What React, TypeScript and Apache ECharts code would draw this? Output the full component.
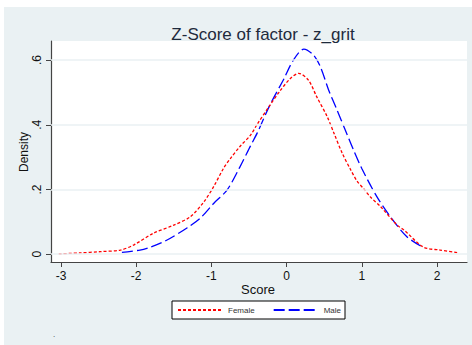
import React, { useEffect, useRef } from "react";
import * as echarts from "echarts";

// Kernel density estimates of the z_grit factor score, by sex
const femaleScore = [-3.03, -2.75, -2.48, -2.21, -2.03, -1.77, -1.5, -1.28, -1.1, -0.97, -0.84, -0.75, -0.62, -0.48, -0.39, -0.22, -0.08, 0.05, 0.16, 0.29, 0.4, 0.54, 0.63, 0.74, 0.85, 0.94, 1.02, 1.11, 1.25, 1.47, 1.56, 1.82, 2.04, 2.27];
const femaleDensity = [0.001, 0.004, 0.008, 0.013, 0.029, 0.065, 0.09, 0.116, 0.162, 0.209, 0.265, 0.295, 0.333, 0.368, 0.402, 0.461, 0.507, 0.543, 0.559, 0.538, 0.487, 0.425, 0.374, 0.312, 0.262, 0.225, 0.204, 0.178, 0.147, 0.09, 0.075, 0.022, 0.013, 0.005];

const maleScore = [-2.19, -1.95, -1.81, -1.59, -1.32, -1.15, -0.97, -0.79, -0.62, -0.48, -0.39, -0.22, -0.04, 0.09, 0.23, 0.36, 0.45, 0.56, 0.67, 0.78, 0.89, 1.0, 1.2, 1.38, 1.6, 1.8];
const maleDensity = [0.006, 0.013, 0.022, 0.044, 0.082, 0.111, 0.157, 0.199, 0.27, 0.335, 0.375, 0.462, 0.54, 0.6, 0.634, 0.615, 0.579, 0.507, 0.446, 0.384, 0.322, 0.265, 0.178, 0.116, 0.054, 0.023];

const xTicks = [-3, -2, -1, 0, 1, 2];
const yTicks = [0, 0.2, 0.4, 0.6];

const BG = "#eaf1f3";
const FONT = "'Liberation Sans', Arial, sans-serif";

const pairs = (xs: number[], ys: number[]) => xs.map((x, i) => [x, ys[i]]);

export default function App() {
  const ref = useRef<HTMLDivElement>(null);

  useEffect(() => {
    if (!ref.current) return;
    const chart = echarts.init(ref.current, undefined, { renderer: "svg" });
    chart.setOption({
      animation: false,
      backgroundColor: "#ffffff",
      textStyle: { fontFamily: FONT },
      title: {
        text: "Z-Score of factor - z_grit",
        left: 258,
        textAlign: "center",
        top: 21,
        textStyle: { fontSize: 17, fontWeight: "normal", color: "#1e2a3c", fontFamily: FONT },
      },
      graphic: [
        { type: "rect", z: -10, shape: { x: 4, y: 7, width: 468, height: 338 }, style: { fill: BG } },
        {
          type: "text",
          x: 258,
          y: 289,
          style: { text: "Score", fontSize: 13, fill: "#111", align: "center", verticalAlign: "middle", fontFamily: FONT },
        },
        {
          type: "text",
          x: 24,
          y: 152,
          rotation: Math.PI / 2,
          style: { text: "Density", fontSize: 12, fill: "#111", align: "center", verticalAlign: "middle", fontFamily: FONT },
        },
        {
          type: "text",
          x: 54,
          y: 334,
          style: { text: ".", fontSize: 8, fill: "#333", align: "center", verticalAlign: "middle", fontFamily: FONT },
        },
      ],
      legend: {
        data: ["Female", "Male"],
        left: 172,
        top: 301,
        itemWidth: 45,
        itemHeight: 10,
        itemGap: 18,
        padding: [5, 4, 5, 5],
        backgroundColor: "#ffffff",
        borderColor: "#000000",
        borderWidth: 1,
        borderRadius: 0,
        itemStyle: { opacity: 0 },
        textStyle: { fontSize: 8, color: "#333", fontFamily: FONT },
      },
      grid: {
        left: 51,
        right: 5,
        top: 41,
        bottom: 83,
        show: true,
        backgroundColor: "#ffffff",
        borderWidth: 0,
      },
      xAxis: {
        type: "value",
        min: -3.133,
        max: 2.399,
        axisLine: { show: true, onZero: false, lineStyle: { color: "#444", width: 1.2 } },
        axisTick: { show: true, length: 5, lineStyle: { color: "#444" }, customValues: xTicks },
        axisLabel: { customValues: xTicks, fontSize: 12, color: "#111", margin: 8, fontFamily: FONT },
        splitLine: { show: false },
      },
      yAxis: {
        type: "value",
        min: -0.024,
        max: 0.659,
        axisLine: { show: true, onZero: false, lineStyle: { color: "#444", width: 1.2 } },
        axisTick: { show: true, length: 5, lineStyle: { color: "#444" }, customValues: yTicks },
        axisLabel: {
          customValues: yTicks,
          rotate: 90,
          fontSize: 12,
          color: "#111",
          margin: 8,
          fontFamily: FONT,
          formatter: (v: number) => (v === 0 ? "0" : String(v).replace(/^0/, "")),
        },
        splitLine: { show: false },
      },
      series: [
        {
          name: "grid",
          type: "line",
          data: [],
          z: 1,
          silent: true,
          markLine: {
            silent: true,
            symbol: ["none", "none"],
            label: { show: false },
            lineStyle: { color: BG, type: "solid", width: 1.5 },
            data: yTicks.map((v) => ({ yAxis: v })),
          },
        },
        {
          name: "Male",
          type: "line",
          z: 3,
          data: pairs(maleScore, maleDensity),
          symbol: "none",
          smooth: 0.3,
          color: "#0000ff",
          lineStyle: { color: "#0000ff", width: 1.3, type: [11, 4] },
        },
        {
          name: "Female",
          type: "line",
          z: 4,
          data: pairs(femaleScore, femaleDensity),
          symbol: "none",
          smooth: 0.3,
          color: "#ff0000",
          lineStyle: { color: "#ff0000", width: 1.3, type: [3, 2] },
        },
      ],
    });
    return () => chart.dispose();
  }, []);

  return (
    <div
      ref={ref}
      style={{ position: "fixed", left: 0, top: 0, width: 472, height: 345 }}
    />
  );
}
